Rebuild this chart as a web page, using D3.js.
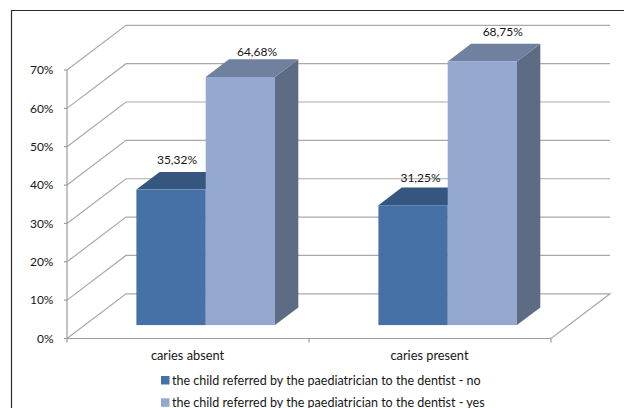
<!DOCTYPE html>
<html>
<head>
<meta charset="utf-8">
<script src="https://cdn.jsdelivr.net/npm/d3@7/dist/d3.min.js"></script>
<style>
html,body{margin:0;padding:0;background:#fff;}
svg{display:block;}
text{font-family:Lato,"Open Sans",sans-serif;fill:#161616;}
</style>
</head>
<body>
<svg id="chart" width="624" height="408"></svg>
<script>
const categories = ["caries absent", "caries present"];
const seriesNames = [
  "the child referred by the paediatrician to the dentist - no",
  "the child referred by the paediatrician to the dentist - yes"
];
const seriesNo = [35.32, 31.25];
const seriesYes = [64.68, 68.75];
const yTicks = [0, 10, 20, 30, 40, 50, 60, 70];

// Layout of the pseudo-3D box
const frontLeft = 67, frontRight = 551, floorY = 338.5, topY = 70;
const boxDepth = {x: 59, y: -44.7};
const barDepthStart = 0.3, barDepthShare = 0.395;
const labelShiftX = [[6, 16.7], [7.5, 20.4]];
const labelShiftY = [[-8, -3], [-6, -8]];

const frontFill = ["#4571a7", "#95a9d0"];
const topFill = ["#35567f", "#70809f"];
const sideFill = ["#2d4a6e", "#5d6c84"];
const gridColor = "#a9a9a9";

const svg = d3.select("#chart");
const y = d3.scaleLinear().domain([0, 70]).range([floorY, topY]);
const x0 = d3.scaleBand().domain(categories).range([frontLeft, frontRight]).paddingInner(0).paddingOuter(0);
const x1 = d3.scaleBand().domain([0, 1]).range([51.7, 242 - 51.7]);
const values = [seriesNo, seriesYes];

// Outer frame, open on the right and at the bottom
svg.append("path")
  .attr("d", d3.line()([[11.5, 408], [11.5, 10.5], [624, 10.5]]))
  .attr("fill", "none").attr("stroke", "#2b2b2b").attr("stroke-width", 1.2);

// Back wall gridlines and the receding lines on the left wall
const grid = svg.append("g").attr("fill", "none").attr("stroke", gridColor).attr("stroke-width", 1.2);
yTicks.forEach(t => {
  const p = [[frontLeft, y(t)], [frontLeft + boxDepth.x, y(t) + boxDepth.y],
             [frontRight + boxDepth.x, y(t) + boxDepth.y]];
  if (t === 0) p.push([frontRight, y(0)]);
  grid.append("path").attr("d", d3.line()(p));
});

// Front axes with their outward ticks
const axisG = svg.append("g").attr("fill", "none").attr("stroke", "#9c9c9c").attr("stroke-width", 1.2);
axisG.append("path").attr("d", d3.line()([[frontLeft, topY], [frontLeft, floorY], [frontRight, floorY]]));
yTicks.forEach(t => axisG.append("path").attr("d", d3.line()([[frontLeft - 3, y(t)], [frontLeft, y(t)]])));
[frontLeft, frontLeft + x0.bandwidth(), frontRight].forEach(v =>
  axisG.append("path").attr("d", d3.line()([[v, floorY], [v, floorY + 4]])));

svg.append("g").selectAll("text").data(yTicks).join("text")
  .attr("x", 53.5).attr("y", d => y(d) + 4.2)
  .attr("text-anchor", "end").attr("font-size", 12)
  .text(d => d + "%");

svg.append("g").selectAll("text").data(categories).join("text")
  .attr("x", d => x0(d) + x0.bandwidth() / 2 - 0.5).attr("y", 360)
  .attr("text-anchor", "middle").attr("font-size", 12.8)
  .text(d => d);

// Bars: the second series is drawn after the first so its face overlaps
const zeroPx = y(0);
const pxPerPct = y(0) - y(1);
const bars = svg.append("g");
categories.forEach((c, ci) => {
  [0, 1].forEach(si => {
    const v = values[si][ci];
    const w = x1.bandwidth();
    const left = x0(c) + x1(si) + barDepthStart * boxDepth.x;
    const base = zeroPx + barDepthStart * boxDepth.y;
    const top = base - v * pxPerPct;
    const dx = barDepthShare * boxDepth.x, dy = barDepthShare * boxDepth.y;
    const line = d3.line();
    bars.append("path").attr("fill", sideFill[si])
      .attr("d", line([[left + w, base], [left + w + dx, base + dy], [left + w + dx, top + dy], [left + w, top]]) + "Z");
    bars.append("path").attr("fill", topFill[si])
      .attr("d", line([[left, top], [left + dx, top + dy], [left + w + dx, top + dy], [left + w, top]]) + "Z");
    bars.append("rect").attr("fill", frontFill[si])
      .attr("x", left).attr("y", top).attr("width", w).attr("height", base - top);
  });
});

// Value labels use a decimal comma
const labels = svg.append("g");
categories.forEach((c, ci) => {
  [0, 1].forEach(si => {
    const v = values[si][ci];
    const left = x0(c) + x1(si) + barDepthStart * boxDepth.x;
    const base = zeroPx + barDepthStart * boxDepth.y;
    labels.append("text")
      .attr("x", left + x1.bandwidth() / 2 + labelShiftX[ci][si])
      .attr("y", base - v * pxPerPct + barDepthShare * boxDepth.y + labelShiftY[ci][si])
      .attr("text-anchor", "middle").attr("font-size", 12)
      .text(v.toFixed(2).replace(".", ",") + "%");
  });
});

// Legend stacked under the axis
const legend = svg.append("g");
seriesNames.forEach((name, i) => {
  const ly = 380.5 + i * 22.3;
  legend.append("rect").attr("x", 161).attr("y", ly - 4.5).attr("width", 8.5).attr("height", 8.5).attr("fill", frontFill[i]);
  legend.append("text").attr("x", 172).attr("y", ly + 4).attr("font-size", 12.55).text(name);
});
</script>
</body>
</html>
